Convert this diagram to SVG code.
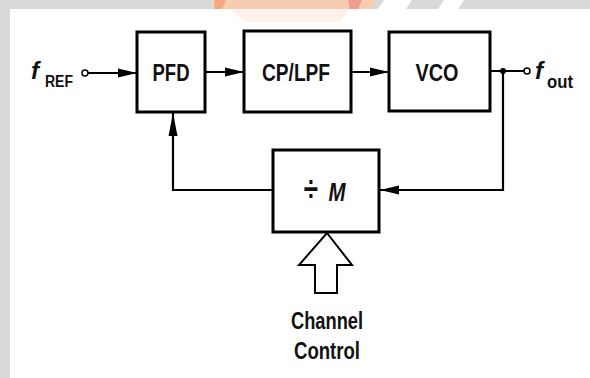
<svg xmlns="http://www.w3.org/2000/svg" width="590" height="378" viewBox="0 0 590 378">
<style>
.box{fill:#fff;stroke:#000;stroke-width:3}
.ln{fill:none;stroke:#000;stroke-width:2.2}
.lbl{font-family:"Liberation Sans",Arial,sans-serif;font-weight:bold;fill:#111}
.it{font-style:italic}
</style>
<defs>
<marker id="ah" markerWidth="20" markerHeight="10" refX="19" refY="5" orient="auto" markerUnits="userSpaceOnUse">
<path d="M0,0.5 L19,5 L0,9.5 Z" fill="#000"/>
</marker>
<marker id="ahl" markerWidth="24" markerHeight="10" refX="23" refY="5" orient="auto" markerUnits="userSpaceOnUse">
<path d="M0,0.5 L23,5 L0,9.5 Z" fill="#000"/>
</marker>
</defs>
<rect width="590" height="378" fill="#fff"/>
<g id="frame">
<rect x="0" y="0" width="590" height="9" fill="#d9d9d9"/>
<rect x="0" y="0" width="10" height="378" fill="#d9d9d9"/>
<polygon points="212,0 376,0 372,9 214,9" fill="#f7cdb2"/>
<polygon points="215,0 226,0 222,9 214,9" fill="#f4a77c"/>
<polygon points="348,0 362,0 358,9 350,9" fill="#f29b8f"/>
<polygon points="384,0 412,0 406,9 378,9" fill="#ffffff"/>
<polygon points="444,0 464,0 458,9 438,9" fill="#ffffff"/>
<polygon points="230,9 350,9 340,22 245,22" fill="#fbe9de" opacity="0.6"/>
</g>
<g id="connectors">
<circle cx="85" cy="73" r="3" fill="#fff" stroke="#000" stroke-width="1.5"/>
<line class="ln" x1="88" y1="73" x2="137" y2="73" marker-end="url(#ah)"/>
<line class="ln" x1="205" y1="72" x2="244" y2="72" marker-end="url(#ah)"/>
<line class="ln" x1="351" y1="72" x2="389" y2="72" marker-end="url(#ah)"/>
<line class="ln" x1="490" y1="71" x2="524" y2="71"/>
<circle cx="503" cy="71" r="3" fill="#000"/>
<circle cx="527" cy="71" r="3" fill="#fff" stroke="#000" stroke-width="1.5"/>
<polyline class="ln" points="503,71 503,190 380,190" marker-end="url(#ah)"/>
<polyline class="ln" points="273,190 173,190 173,113" marker-end="url(#ahl)"/>
<polygon points="327,233 352,265 337,265 337,293 315,293 315,265 299,265" fill="#fff" stroke="#000" stroke-width="2" stroke-linejoin="miter"/>
</g>
<g id="fref">
<text class="lbl it" x="31" y="79" font-size="24">f</text>
<text class="lbl" x="45" y="87" font-size="16" textLength="28" lengthAdjust="spacingAndGlyphs">REF</text>
</g>
<g id="pfd">
<rect class="box" x="137" y="32" width="68" height="80"/>
<text class="lbl" x="171" y="81" font-size="24" text-anchor="middle" textLength="37" lengthAdjust="spacingAndGlyphs">PFD</text>
</g>
<g id="cplpf">
<rect class="box" x="244" y="31" width="107" height="81"/>
<text class="lbl" x="296" y="81" font-size="24" text-anchor="middle" textLength="68" lengthAdjust="spacingAndGlyphs">CP/LPF</text>
</g>
<g id="vco">
<rect class="box" x="389" y="32" width="101" height="79"/>
<text class="lbl" x="437" y="81" font-size="24" text-anchor="middle" textLength="43" lengthAdjust="spacingAndGlyphs">VCO</text>
</g>
<g id="fout">
<text class="lbl it" x="535" y="79" font-size="24">f</text>
<text class="lbl" x="547" y="88" font-size="18" textLength="26" lengthAdjust="spacingAndGlyphs">out</text>
</g>
<g id="divider">
<rect class="box" x="273" y="150" width="106" height="82"/>
<text class="lbl" transform="translate(311,201) scale(1.3,1.8)" font-size="20" text-anchor="middle">÷</text>
<text class="lbl it" x="337" y="201" font-size="25" text-anchor="middle" textLength="17" lengthAdjust="spacingAndGlyphs">M</text>
</g>
<g id="channel">
<text class="lbl" x="327" y="329" font-size="23" text-anchor="middle" textLength="72" lengthAdjust="spacingAndGlyphs">Channel</text>
<text class="lbl" x="327" y="359" font-size="23" text-anchor="middle" textLength="66" lengthAdjust="spacingAndGlyphs">Control</text>
</g>
</svg>
